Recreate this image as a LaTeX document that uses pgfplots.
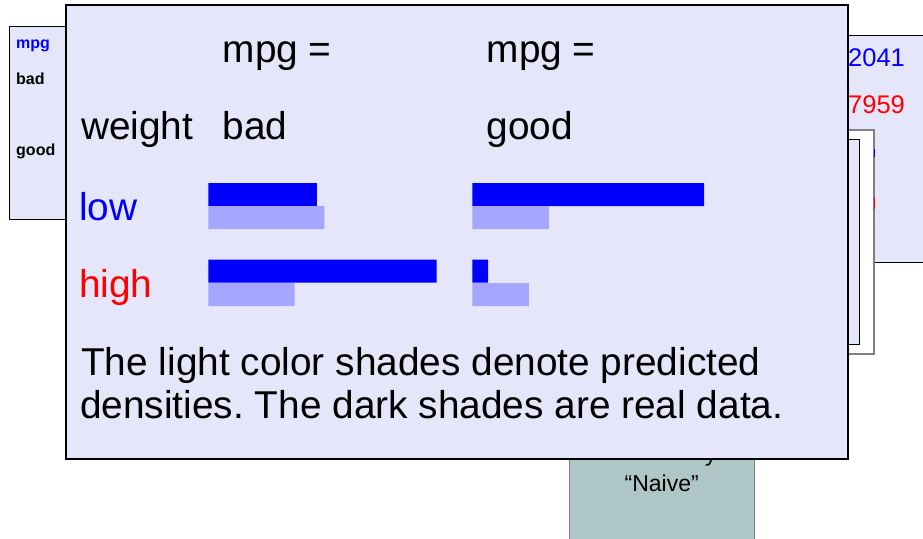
\documentclass[border=0pt]{standalone}
\usepackage{fontspec}
\setmainfont{Liberation Sans}
\usepackage{pgfplots}
\pgfplotsset{compat=1.18}

\definecolor{lav}{RGB}{230,230,250}
\definecolor{tealgray}{RGB}{174,198,198}
\definecolor{darkbar}{RGB}{0,0,255}
\definecolor{lightbar}{RGB}{166,166,255}
\newcommand\fbig{\fontsize{38.8}{43.3}\selectfont}
\frenchspacing

\begin{document}
\begin{tikzpicture}[x=1pt,y=-1pt]
\useasboundingbox (0,0) rectangle (923,538);
\fill[white] (0,0) rectangle (923,538);

% slides behind
\draw[black,line width=1pt,fill=lav] (9.5,26.5) rectangle (80,219.5);
\node[anchor=base west,inner sep=0,blue,font=\fontsize{16}{18}\selectfont\bfseries] at (16,48) {mpg};
\node[anchor=base west,inner sep=0,font=\fontsize{16}{18}\selectfont\bfseries] at (16,84) {bad};
\node[anchor=base west,inner sep=0,font=\fontsize{16}{18}\selectfont\bfseries] at (16,155) {good};

\draw[black,line width=1pt,fill=lav] (800,35) rectangle (930,262);
\node[anchor=base west,inner sep=0,blue,font=\fontsize{25.5}{30}\selectfont] at (848,66.7) {2041};
\node[anchor=base west,inner sep=0,red,font=\fontsize{25.5}{30}\selectfont] at (848,113.3) {7959};
\draw[gray,line width=1.2pt,fill=white] (800,130) rectangle (874,354);
\draw[black,line width=1pt,fill=lav] (800,139.3) rectangle (859.3,344);
\fill[blue] (874.4,149) rectangle (875.4,157);
\fill[red] (874.4,197) rectangle (875.4,209);

\draw[gray,line width=1pt,fill=tealgray] (569.5,440) rectangle (754,545);
\node[anchor=base,inner sep=0,font=\fontsize{23}{27}\selectfont] at (661.7,491.7) {“Naive”};
\node[anchor=base west,inner sep=0,font=\fontsize{23}{27}\selectfont] at (705,461) {y};

% main slide
\draw[black,line width=2pt,fill=lav] (66,5) rectangle (848,459);

\node[anchor=base west,inner sep=0,font=\fbig] at (222.5,62.3) {mpg =};
\node[anchor=base west,inner sep=0,font=\fbig] at (486.5,62.3) {mpg =};
\node[anchor=base west,inner sep=0,font=\fbig] at (81,139.5) {weight};
\node[anchor=base west,inner sep=0,font=\fbig] at (222.5,139.5) {bad};
\node[anchor=base west,inner sep=0,font=\fbig] at (486.5,139.5) {good};
\node[anchor=base west,inner sep=0,font=\fbig,blue] at (79,220) {low};
\node[anchor=base west,inner sep=0,font=\fbig,red] at (79,297) {high};
\node[anchor=base west,inner sep=0,font=\fbig] at (81,375) {The light color shades denote predicted};
\node[anchor=base west,inner sep=0,font=\fbig] at (80,418.3) {densities. The dark shades are real data.};

% mpg = bad
\begin{axis}[at={(208.3pt,-170pt)}, anchor=north west,
  x=583.9pt, y=1pt, y dir=reverse,
  xmin=0, xmax=0.42, ymin=170, ymax=320,
  hide axis, clip=false]
\addplot[xbar, bar shift=0pt, bar width=23pt, fill=darkbar, draw=none]
  coordinates {(0.186,194.5) (0.391,271)};
\addplot[xbar, bar shift=0pt, bar width=23pt, fill=lightbar, draw=none]
  coordinates {(0.199,217.5) (0.148,294.5)};
\end{axis}

% mpg = good
\begin{axis}[at={(472.3pt,-170pt)}, anchor=north west,
  x=583.9pt, y=1pt, y dir=reverse,
  xmin=0, xmax=0.42, ymin=170, ymax=320,
  hide axis, clip=false]
\addplot[xbar, bar shift=0pt, bar width=23pt, fill=darkbar, draw=none]
  coordinates {(0.397,194.5) (0.027,271)};
\addplot[xbar, bar shift=0pt, bar width=23pt, fill=lightbar, draw=none]
  coordinates {(0.131,217.5) (0.097,294.5)};
\end{axis}
\end{tikzpicture}
\end{document}
